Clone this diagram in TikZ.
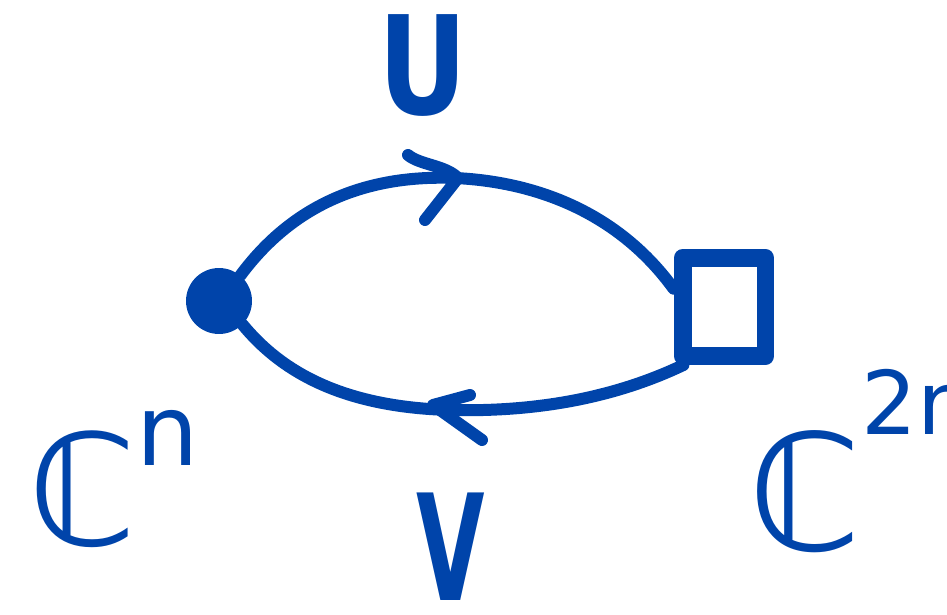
\documentclass[tikz,border=0pt]{standalone}
\usepackage{fontspec}
\setmainfont{DejaVu Sans}
\definecolor{ink}{RGB}{0,68,170}
\begin{document}
\begin{tikzpicture}[x=0.02cm,y=-0.02cm, line cap=round, line join=round,
  stroke/.style={draw=ink, line width=0.24cm},
  lbl/.style={text=ink, inner sep=0pt, font=\bfseries}]
\useasboundingbox (0,0) rectangle (947,615);
\clip (0,0) rectangle (947,615);
% nodes
\node[circle, fill=ink, minimum size=1.32cm, inner sep=0pt] (dot) at (219,301) {};
\node[draw=ink, line width=0.36cm, minimum width=1.66cm, minimum height=1.96cm, inner sep=0pt] (sq) at (724,307) {};
% connectors
\draw[stroke] (dot.50) .. controls (300,195) and (380,175) .. (455,178)
  .. controls (540,182) and (620,215) .. (sq.160);
\draw[stroke] (sq.235) .. controls (610,400) and (530,412) .. (450,410)
  .. controls (340,407) and (280,370) .. (dot.-45);
% arrow chevrons
\draw[stroke] (408,155) .. controls (420,165) and (445,165) .. (458,178) -- (425,220);
\draw[stroke] (470,395) -- (433,405) -- (482,440);
% labels
\node[lbl, anchor=base, font=\bfseries\fontsize{78}{78}\selectfont] (U) at (423,114) {\scalebox{0.8}[1]{U}};
\node[lbl, anchor=base, font=\bfseries\fontsize{84}{84}\selectfont] (V) at (451,600) {\scalebox{0.6}[1]{V}};
\node[lbl, anchor=base west, font=\fontsize{88}{88}\selectfont] (Cn) at (28,545) {ℂ\raisebox{45pt}{\fontsize{56}{56}\selectfont n}};
\node[lbl, anchor=base west, font=\fontsize{92}{92}\selectfont] (C2n) at (748,550) {ℂ\raisebox{66pt}{\fontsize{50}{50}\selectfont 2n}};
\end{tikzpicture}
\end{document}
